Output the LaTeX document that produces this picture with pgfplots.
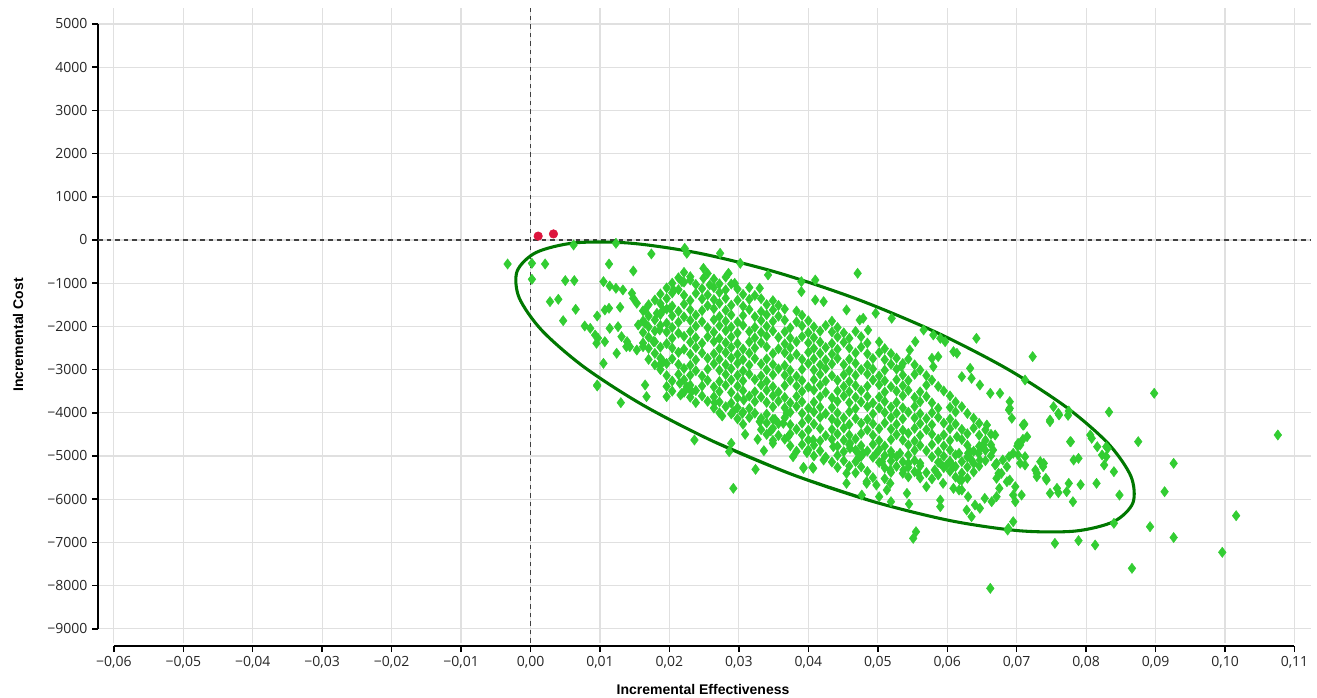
\documentclass[border=0pt]{standalone}
\usepackage{fontspec}
\setmainfont{Open Sans}
\newfontfamily\labelfont{Liberation Sans}
\usepackage{pgfplots}
\pgfplotsset{compat=1.18}
\definecolor{ptgreen}{RGB}{50,205,50}
\definecolor{ellgreen}{RGB}{0,120,0}
\definecolor{ptred}{RGB}{220,20,60}
\definecolor{gridgray}{RGB}{224,224,224}
\begin{document}
\begin{tikzpicture}
\begin{axis}[
  scale only axis, width=909.75pt, height=476.25pt,
  xmin=-0.06228, xmax=0.11238, ymin=-9329, ymax=5370,
  axis lines*=left,
  axis x line shift=2.25pt,
  x axis line style={line width=1.4pt, shorten <=12pt, shorten >=12.75pt},
  y axis line style={line width=1.4pt, shorten <=10.5pt, shorten >=12pt},
  tick align=outside, major tick length=4.5pt,
  tick style={black, line width=1.1pt},
  grid=major, major grid style={gridgray, line width=0.9pt},
  xtick={-0.06,-0.05,-0.04,-0.03,-0.02,-0.01,0,0.01,0.02,0.03,0.04,0.05,0.06,0.07,0.08,0.09,0.10,0.11},
  xticklabels={{−0,06},{−0,05},{−0,04},{−0,03},{−0,02},{−0,01},{0,00},{0,01},{0,02},{0,03},{0,04},{0,05},{0,06},{0,07},{0,08},{0,09},{0,10},{0,11}},
  ytick={-9000,-8000,-7000,-6000,-5000,-4000,-3000,-2000,-1000,0,1000,2000,3000,4000,5000},
  yticklabels={−9000,−8000,−7000,−6000,−5000,−4000,−3000,−2000,−1000,0,1000,2000,3000,4000,5000},
  ticklabel style={font=\fontsize{10.5}{12}\selectfont, text=black!85},
  scaled ticks=false,
  clip mode=individual,
]
% reference lines
\addplot[black!75, line width=1.2pt, dash pattern=on 3.4pt off 3pt] coordinates {(-0.06228,0) (0.11238,0)};
\addplot[black!75, line width=1.2pt, dash pattern=on 3.4pt off 3pt] coordinates {(0,-9329) (0,5370)};
% confidence ellipse
\addplot[ellgreen, line width=2.3pt, smooth] coordinates {
(0.04930,-6053) (0.03767,-5428) (0.02635,-4664) (0.01613,-3817) (0.00770,-2940) (0.00164,-2095) (-0.00164,-1336)
(-0.00193,-722) (0.00081,-289) (0.00639,-67) (0.01441,-74) (0.02433,-308) (0.03551,-752)
(0.04714,-1377) (0.05846,-2141) (0.06868,-2988) (0.07711,-3866) (0.08317,-4711) (0.08645,-5470)
(0.08674,-6083) (0.08400,-6516) (0.07842,-6738) (0.07040,-6731) (0.06048,-6498) (0.04930,-6053)
(0.03767,-5428) (0.02635,-4664)};
% simulations
\addplot[only marks, mark=diamond*, mark size=3.8pt, mark options={draw=ptgreen, fill=ptgreen}] coordinates {
(0.0221,-750) (0.0255,-775)
(0.0213,-875) (0.0230,-850) (0.0264,-905) (0.0281,-860)
(0.0204,-1000) (0.0221,-975) (0.0238,-1030) (0.0272,-1015) (0.0289,-1020)
(0.0196,-1110) (0.0213,-1150) (0.0247,-1125) (0.0264,-1100) (0.0281,-1155) (0.0298,-1135) (0.0315,-1100)
(0.0187,-1250) (0.0204,-1225) (0.0221,-1280) (0.0238,-1235) (0.0255,-1270) (0.0272,-1215) (0.0306,-1260) (0.0323,-1285)
(0.0179,-1390) (0.0196,-1355) (0.0230,-1400) (0.0247,-1365) (0.0264,-1380) (0.0281,-1350) (0.0298,-1395) (0.0315,-1375) (0.0332,-1360) (0.0349,-1405)
(0.0170,-1500) (0.0187,-1475) (0.0204,-1530) (0.0221,-1485) (0.0255,-1520) (0.0272,-1465) (0.0289,-1510) (0.0306,-1535) (0.0340,-1495) (0.0357,-1515)
(0.0162,-1640) (0.0196,-1600) (0.0213,-1650) (0.0230,-1615) (0.0247,-1635) (0.0264,-1590) (0.0281,-1630) (0.0315,-1610) (0.0332,-1655) (0.0349,-1620) (0.0366,-1600) (0.0383,-1645)
(0.0170,-1760) (0.0187,-1725) (0.0204,-1755) (0.0221,-1780) (0.0238,-1740) (0.0272,-1770) (0.0289,-1735) (0.0306,-1750) (0.0323,-1775) (0.0340,-1730) (0.0357,-1765) (0.0391,-1745)
(0.0162,-1875) (0.0179,-1850) (0.0213,-1905) (0.0230,-1860) (0.0247,-1890) (0.0264,-1845) (0.0281,-1880) (0.0298,-1900) (0.0332,-1865) (0.0349,-1885) (0.0366,-1855) (0.0383,-1895) (0.0400,-1870) (0.0434,-1880)
(0.0170,-2010) (0.0187,-1980) (0.0204,-2025) (0.0238,-1995) (0.0255,-2030) (0.0272,-1985) (0.0289,-2015) (0.0306,-1975) (0.0323,-2020) (0.0340,-2000) (0.0374,-2035) (0.0391,-1990) (0.0408,-2010) (0.0425,-1980) (0.0442,-2025)
(0.0162,-2140) (0.0179,-2105) (0.0196,-2130) (0.0213,-2155) (0.0230,-2115) (0.0264,-2135) (0.0281,-2100) (0.0298,-2150) (0.0315,-2120) (0.0332,-2140) (0.0349,-2105) (0.0366,-2125) (0.0400,-2145) (0.0417,-2110) (0.0434,-2130) (0.0451,-2150) (0.0468,-2115)
(0.0170,-2250) (0.0204,-2275) (0.0221,-2230) (0.0238,-2260) (0.0255,-2240) (0.0272,-2280) (0.0289,-2245) (0.0323,-2265) (0.0340,-2225) (0.0357,-2255) (0.0374,-2270) (0.0391,-2235) (0.0408,-2260) (0.0442,-2245) (0.0459,-2275) (0.0476,-2240)
(0.0162,-2385) (0.0179,-2355) (0.0196,-2400) (0.0230,-2365) (0.0247,-2390) (0.0264,-2350) (0.0281,-2380) (0.0298,-2395) (0.0315,-2360) (0.0332,-2375) (0.0366,-2405) (0.0383,-2355) (0.0400,-2380) (0.0417,-2365) (0.0434,-2395) (0.0451,-2370) (0.0485,-2385) (0.0502,-2360)
(0.0170,-2510) (0.0187,-2480) (0.0204,-2500) (0.0221,-2530) (0.0238,-2490) (0.0272,-2515) (0.0289,-2485) (0.0306,-2525) (0.0323,-2500) (0.0340,-2475) (0.0357,-2520) (0.0374,-2495) (0.0408,-2510) (0.0425,-2490) (0.0442,-2530) (0.0459,-2500) (0.0476,-2480) (0.0510,-2515)
(0.0179,-2625) (0.0213,-2600) (0.0230,-2645) (0.0247,-2615) (0.0264,-2635) (0.0281,-2605) (0.0298,-2650) (0.0315,-2620) (0.0349,-2630) (0.0366,-2610) (0.0383,-2645) (0.0400,-2600) (0.0417,-2625) (0.0434,-2640) (0.0468,-2615) (0.0485,-2635) (0.0502,-2605) (0.0519,-2630)
(0.0170,-2765) (0.0187,-2735) (0.0204,-2750) (0.0238,-2775) (0.0255,-2740) (0.0272,-2760) (0.0289,-2730) (0.0306,-2770) (0.0323,-2745) (0.0340,-2755) (0.0374,-2735) (0.0391,-2765) (0.0408,-2750) (0.0425,-2775) (0.0442,-2740) (0.0459,-2760) (0.0493,-2745) (0.0510,-2770) (0.0527,-2735) (0.0544,-2755)
(0.0179,-2890) (0.0196,-2860) (0.0213,-2880) (0.0230,-2900) (0.0264,-2865) (0.0281,-2885) (0.0298,-2855) (0.0315,-2895) (0.0332,-2870) (0.0349,-2880) (0.0366,-2905) (0.0400,-2860) (0.0417,-2890) (0.0434,-2870) (0.0451,-2885) (0.0468,-2855) (0.0485,-2895) (0.0519,-2875) (0.0536,-2860) (0.0553,-2890)
(0.0187,-3000) (0.0221,-2975) (0.0238,-3025) (0.0255,-2990) (0.0272,-3015) (0.0289,-2980) (0.0306,-3030) (0.0340,-3005) (0.0357,-2985) (0.0374,-3020) (0.0391,-2995) (0.0408,-3010) (0.0425,-2975) (0.0459,-3025) (0.0476,-3000) (0.0493,-2985) (0.0510,-3015) (0.0527,-2990) (0.0561,-3010)
(0.0196,-3140) (0.0213,-3110) (0.0230,-3130) (0.0247,-3150) (0.0281,-3115) (0.0298,-3135) (0.0315,-3105) (0.0332,-3145) (0.0349,-3120) (0.0366,-3130) (0.0383,-3155) (0.0417,-3110) (0.0434,-3140) (0.0451,-3120) (0.0468,-3135) (0.0485,-3105) (0.0502,-3145) (0.0536,-3125) (0.0553,-3110) (0.0570,-3140)
(0.0204,-3265) (0.0221,-3235) (0.0255,-3250) (0.0272,-3275) (0.0289,-3240) (0.0306,-3260) (0.0323,-3230) (0.0340,-3270) (0.0374,-3245) (0.0391,-3255) (0.0408,-3235) (0.0425,-3265) (0.0442,-3250) (0.0459,-3275) (0.0493,-3240) (0.0510,-3260) (0.0527,-3235) (0.0544,-3255) (0.0578,-3245)
(0.0196,-3390) (0.0230,-3360) (0.0247,-3380) (0.0264,-3400) (0.0281,-3365) (0.0298,-3385) (0.0332,-3355) (0.0349,-3395) (0.0366,-3370) (0.0383,-3380) (0.0400,-3405) (0.0417,-3360) (0.0451,-3390) (0.0468,-3370) (0.0485,-3385) (0.0502,-3355) (0.0519,-3395) (0.0536,-3375) (0.0570,-3360) (0.0587,-3390)
(0.0204,-3500) (0.0221,-3525) (0.0238,-3485) (0.0272,-3510) (0.0289,-3530) (0.0306,-3490) (0.0323,-3515) (0.0340,-3480) (0.0357,-3520) (0.0391,-3505) (0.0408,-3475) (0.0425,-3525) (0.0442,-3495) (0.0459,-3510) (0.0476,-3485) (0.0510,-3520) (0.0527,-3500) (0.0544,-3480) (0.0561,-3515) (0.0595,-3495)
(0.0230,-3640) (0.0247,-3610) (0.0264,-3630) (0.0298,-3650) (0.0315,-3615) (0.0332,-3635) (0.0349,-3605) (0.0366,-3645) (0.0383,-3620) (0.0417,-3630) (0.0434,-3655) (0.0451,-3610) (0.0468,-3640) (0.0485,-3620) (0.0502,-3635) (0.0536,-3605) (0.0553,-3645) (0.0570,-3625) (0.0604,-3610)
(0.0238,-3765) (0.0255,-3735) (0.0272,-3750) (0.0289,-3775) (0.0323,-3740) (0.0340,-3760) (0.0357,-3730) (0.0374,-3770) (0.0391,-3745) (0.0408,-3755) (0.0442,-3735) (0.0459,-3765) (0.0476,-3750) (0.0493,-3775) (0.0510,-3740) (0.0527,-3760) (0.0561,-3745) (0.0578,-3770) (0.0612,-3750)
(0.0264,-3890) (0.0281,-3860) (0.0298,-3880) (0.0315,-3900) (0.0349,-3865) (0.0366,-3885) (0.0383,-3855) (0.0400,-3895) (0.0417,-3870) (0.0434,-3880) (0.0468,-3905) (0.0485,-3860) (0.0502,-3890) (0.0519,-3870) (0.0536,-3885) (0.0553,-3855) (0.0587,-3895) (0.0604,-3875) (0.0621,-3860)
(0.0272,-4000) (0.0289,-4025) (0.0306,-3985) (0.0323,-4010) (0.0340,-4030) (0.0374,-3990) (0.0391,-4015) (0.0408,-3980) (0.0425,-4020) (0.0442,-4005) (0.0459,-3975) (0.0493,-4025) (0.0510,-3995) (0.0527,-4010) (0.0544,-3985) (0.0561,-4020) (0.0578,-4000) (0.0612,-3980) (0.0629,-4015)
(0.0298,-4140) (0.0315,-4110) (0.0332,-4130) (0.0349,-4150) (0.0366,-4115) (0.0400,-4135) (0.0417,-4105) (0.0434,-4145) (0.0451,-4120) (0.0468,-4130) (0.0485,-4155) (0.0519,-4110) (0.0536,-4140) (0.0553,-4120) (0.0570,-4135) (0.0587,-4105) (0.0604,-4145) (0.0638,-4125)
(0.0306,-4265) (0.0340,-4235) (0.0357,-4250) (0.0374,-4275) (0.0391,-4240) (0.0408,-4260) (0.0442,-4230) (0.0459,-4270) (0.0476,-4245) (0.0493,-4255) (0.0510,-4235) (0.0527,-4265) (0.0561,-4250) (0.0578,-4275) (0.0595,-4240) (0.0612,-4260) (0.0646,-4245)
(0.0332,-4390) (0.0349,-4360) (0.0383,-4380) (0.0400,-4400) (0.0417,-4365) (0.0434,-4385) (0.0451,-4355) (0.0485,-4395) (0.0502,-4370) (0.0519,-4380) (0.0536,-4405) (0.0553,-4360) (0.0570,-4390) (0.0604,-4370) (0.0621,-4385) (0.0638,-4355) (0.0655,-4395)
(0.0340,-4500) (0.0357,-4525) (0.0374,-4485) (0.0391,-4510) (0.0425,-4530) (0.0442,-4490) (0.0459,-4515) (0.0476,-4480) (0.0493,-4520) (0.0527,-4505) (0.0544,-4475) (0.0561,-4525) (0.0578,-4495) (0.0595,-4510) (0.0629,-4485) (0.0646,-4520) (0.0663,-4500)
(0.0349,-4640) (0.0366,-4610) (0.0400,-4630) (0.0417,-4650) (0.0434,-4615) (0.0451,-4635) (0.0468,-4605) (0.0502,-4645) (0.0519,-4620) (0.0536,-4630) (0.0553,-4655) (0.0587,-4610) (0.0604,-4640) (0.0621,-4620) (0.0655,-4635)
(0.0374,-4765) (0.0391,-4735) (0.0408,-4750) (0.0442,-4775) (0.0459,-4740) (0.0476,-4760) (0.0493,-4730) (0.0510,-4770) (0.0544,-4745) (0.0561,-4755) (0.0578,-4735) (0.0595,-4765) (0.0629,-4750) (0.0646,-4775) (0.0663,-4740)
(0.0383,-4890) (0.0400,-4860) (0.0417,-4880) (0.0451,-4900) (0.0468,-4865) (0.0485,-4885) (0.0502,-4855) (0.0519,-4895) (0.0553,-4870) (0.0570,-4880) (0.0587,-4905) (0.0604,-4860) (0.0638,-4890) (0.0655,-4870)
(0.0408,-5000) (0.0425,-5025) (0.0442,-4985) (0.0476,-5010) (0.0493,-5030) (0.0510,-4990) (0.0527,-5015) (0.0544,-4980) (0.0578,-5020) (0.0595,-5005) (0.0612,-4975) (0.0629,-5025) (0.0663,-4995)
(0.0434,-5140) (0.0451,-5110) (0.0468,-5130) (0.0502,-5150) (0.0519,-5115) (0.0536,-5135) (0.0553,-5105) (0.0587,-5145) (0.0604,-5120) (0.0621,-5130) (0.0655,-5110)
(0.0442,-5265) (0.0459,-5235) (0.0476,-5250) (0.0510,-5275) (0.0527,-5240) (0.0544,-5260) (0.0561,-5230) (0.0595,-5270) (0.0612,-5245) (0.0629,-5255) (0.0646,-5235)
(0.0468,-5390) (0.0485,-5360) (0.0519,-5380) (0.0536,-5400) (0.0553,-5365) (0.0570,-5385) (0.0604,-5355) (0.0621,-5395) (0.0638,-5370)
(0.0493,-5500) (0.0510,-5525) (0.0544,-5485) (0.0561,-5510) (0.0578,-5530) (0.0612,-5490) (0.0629,-5515)
(-0.0033,-556) (0.0002,-540) (0.0021,-556) (0.0002,-910) (0.0050,-940) (0.0063,-940) (0.0062,-116) (0.0123,-77) (0.0113,-556) (0.0148,-718) (0.0174,-324) (0.0222,-193) (0.0225,-308) (0.0273,-308) (0.0285,-771) (0.0294,-1003) (0.0302,-540) (0.0342,-810) (0.0330,-1118) (0.0028,-1427) (0.0040,-1373) (0.0065,-1605) (0.0047,-1868) (0.0078,-1991) (0.0086,-2045) (0.0096,-1760) (0.0105,-965) (0.0114,-1065) (0.0123,-1118) (0.0133,-1157) (0.0107,-1620) (0.0113,-1581) (0.0129,-1558) (0.0095,-2391) (0.0107,-2354) (0.0105,-2855) (0.0096,-3357) (0.0124,-2623) (0.0138,-2470) (0.0146,-1234) (0.0148,-1350) (0.0153,-1465) (0.0165,-1620) (0.0165,-1928) (0.0155,-1968) (0.0126,-2007) (0.0114,-2045) (0.0131,-2238) (0.0139,-2354) (0.0143,-2470) (0.0153,-2547) (0.0162,-2470) (0.0177,-2354) (0.0182,-1697) (0.0191,-1620) (0.0201,-1581) (0.0186,-2084) (0.0196,-1928) (0.0206,-1157) (0.0218,-965) (0.0230,-926) (0.0249,-656) (0.0249,-887) (0.0258,-1041) (0.0191,-2817) (0.0186,-2894) (0.0165,-3357) (0.0167,-3627) (0.0196,-3627) (0.0215,-3318) (0.0218,-3549) (0.0230,-3472) (0.0097,-2270) (0.0093,-2200)
(0.0471,-771) (0.0410,-926) (0.0390,-965) (0.0390,-1196) (0.0410,-1389) (0.0422,-1427) (0.0455,-1620) (0.0474,-1852) (0.0479,-1813) (0.0497,-1697) (0.0520,-1813) (0.0486,-2084) (0.0566,-2084) (0.0580,-2199) (0.0590,-2276) (0.0597,-2354) (0.0642,-2276) (0.0554,-2354) (0.0546,-2547) (0.0609,-2585) (0.0614,-2623) (0.0578,-2739) (0.0587,-2700) (0.0580,-2932) (0.0534,-2932) (0.0723,-2700) (0.0712,-3241) (0.0633,-2971) (0.0621,-3164) (0.0635,-3203) (0.0647,-3357) (0.0662,-3549) (0.0676,-3549) (0.0690,-3743) (0.0690,-3897) (0.0753,-3859) (0.0760,-4012) (0.0748,-4167) (0.0777,-4669) (0.0782,-5093) (0.0710,-4283) (0.0715,-4553) (0.0702,-4707) (0.0695,-4938) (0.0705,-5169) (0.0671,-5169) (0.0666,-4862) (0.0674,-5401) (0.0690,-5556) (0.0738,-5248) (0.0729,-5401) (0.0743,-5556) (0.0758,-5749) (0.0649,-4785) (0.0647,-5093) (0.0633,-4900) (0.0638,-5170) (0.0618,-5556) (0.0621,-5788) (0.0609,-5749) (0.0594,-5633) (0.0570,-5711) (0.0542,-5865) (0.0518,-5633) (0.0513,-5788) (0.0498,-5672) (0.0455,-5633) (0.0484,-5633) (0.0477,-5904) (0.0407,-5285) (0.0393,-5285) (0.0378,-5016) (0.0398,-4900) (0.0371,-4553) (0.0470,-5093) (0.0460,-4823) (0.0436,-4785)
(0.0455,-5401) (0.0484,-5595) (0.0502,-5942) (0.0519,-6058) (0.0545,-6112) (0.0555,-6753) (0.0551,-6907) (0.0590,-6020) (0.0590,-6174) (0.0617,-5788) (0.0630,-5942) (0.0628,-6251) (0.0635,-6405) (0.0640,-6135) (0.0647,-6212) (0.0654,-5981) (0.0664,-6058) (0.0671,-5942) (0.0662,-8064) (0.0695,-6521) (0.0688,-6675) (0.0695,-5904) (0.0707,-5904) (0.0698,-5711) (0.0748,-5865) (0.0760,-5850) (0.0755,-7022) (0.0789,-6960) (0.0813,-7061) (0.0866,-7600) (0.0840,-6558) (0.0848,-5904) (0.0781,-6058) (0.0772,-5827) (0.0775,-5633) (0.0815,-5633) (0.0840,-5363) (0.0826,-5209) (0.0823,-4977) (0.0816,-4785) (0.0806,-4514) (0.0829,-4785) (0.0778,-4669) (0.0789,-5054) (0.0739,-5170) (0.0734,-5131) (0.0727,-5324) (0.0729,-5479) (0.0712,-5016) (0.0712,-5209) (0.0705,-4746) (0.0680,-5093) (0.0686,-5248) (0.0678,-5401) (0.0671,-5517) (0.0686,-5595) (0.0669,-5209) (0.0675,-5749) (0.0652,-4746) (0.0645,-4938) (0.0635,-5093) (0.0630,-4938) (0.0614,-4553) (0.0617,-4938) (0.0609,-5248) (0.0621,-5556) (0.0590,-5170) (0.0582,-5324) (0.0587,-5440) (0.0599,-5209) (0.0561,-5170) (0.0558,-5401) (0.0544,-5170) (0.0532,-4938) (0.0537,-5324) (0.0520,-4977) (0.0518,-5324) (0.0506,-5131) (0.0498,-4938) (0.0470,-4900) (0.0479,-4938) (0.0460,-4707) (0.0669,-4514) (0.0657,-4283) (0.0709,-4283) (0.0748,-4206) (0.0875,-4669)
(0.0898,-3549) (0.1076,-4514) (0.0833,-3982) (0.0926,-5170) (0.0913,-5826) (0.1016,-6382) (0.0892,-6637) (0.0926,-6887) (0.0996,-7230) (0.0829,-5016) (0.0808,-4591) (0.0831,-4823) (0.0792,-5664) (0.0742,-5517) (0.0761,-4051) (0.0775,-3959) (0.0774,-4060) (0.0711,-4260) (0.0689,-3935) (0.0687,-6714) (0.0709,-4614) (0.0701,-4769) (0.0702,-4977) (0.0689,-5016) (0.0698,-6058) (0.0693,-4127)
(0.0096,-3380) (0.0130,-3766) (0.0216,-3588) (0.0225,-3396) (0.0265,-3766) (0.0276,-4074) (0.0236,-4630) (0.0289,-4707) (0.0286,-4900) (0.0292,-5749) (0.0309,-4499) (0.0324,-5309) (0.0327,-4615) (0.0336,-4877) (0.0349,-4707) (0.0346,-4415) (0.0398,-4923) (0.0393,-5262) (0.0406,-5262) (0.0407,-4630) (0.0422,-5093) (0.0352,-4151) (0.0364,-4244) (0.0369,-4012) (0.0330,-4206) (0.0305,-4012) (0.0232,-3511) (0.0292,-3973) (0.0307,-3704)
};
% base case points
\addplot[only marks, mark=*, mark size=3.2pt, mark options={draw=ptred, fill=ptred}] coordinates {(0.0011,90) (0.0033,140)};
\node[rotate=90, font=\labelfont\bfseries\fontsize{10.5}{12}\selectfont] at ([xshift=-60pt]axis cs:-0.06228,-2200) {Incremental Cost};
\node[font=\labelfont\bfseries\fontsize{10.5}{12}\selectfont] at ([yshift=-34.5pt]axis cs:0.02484,-9329) {Incremental Effectiveness};
\end{axis}
\pgfresetboundingbox
\path[use as bounding box] (-73.5pt,-40.5pt) rectangle (914.25pt,482.25pt);
\end{tikzpicture}
\end{document}
